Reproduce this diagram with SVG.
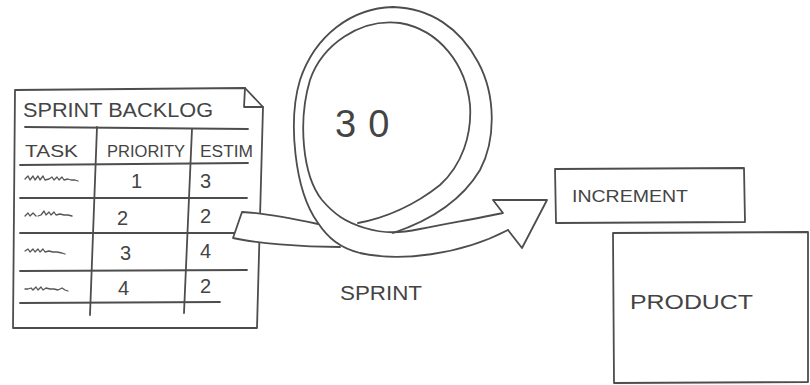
<svg xmlns="http://www.w3.org/2000/svg" width="810" height="385" viewBox="0 0 810 385">
<style>
.ln{fill:none;stroke:#4d4d4d;stroke-width:1.8;stroke-linecap:round;stroke-linejoin:round}
.wf{fill:#fff;stroke:none}
.t{font-family:"Liberation Sans",Arial,sans-serif;fill:#444}
.sq{fill:none;stroke:#555;stroke-width:1.3;stroke-linecap:round;stroke-linejoin:round}
</style>
<rect width="810" height="385" fill="#fff"/>
<g id="backlog">
<path class="ln" d="M15,90 L245,88 L263,107 L257,328 L13,328 Z"/>
<path class="ln" d="M245,88 L244,107 L263,107"/>
<path class="ln" d="M25,127 L248,129"/>
<path class="ln" d="M20,165 L248,163"/>
<path class="ln" d="M20,198 L247,198"/>
<path class="ln" d="M20,233 L242,233"/>
<path class="ln" d="M20,271 L247,270"/>
<path class="ln" d="M20,303 L220,302"/>
<path class="ln" d="M97,127 L90,315"/>
<path class="ln" d="M192,129 L184,313"/>
<text class="t" x="23" y="117" font-size="20" textLength="190" lengthAdjust="spacingAndGlyphs">SPRINT BACKLOG</text>
<text class="t" x="25" y="157" font-size="16" textLength="53" lengthAdjust="spacingAndGlyphs">TASK</text>
<text class="t" x="107" y="157" font-size="16" textLength="78" lengthAdjust="spacingAndGlyphs">PRIORITY</text>
<text class="t" x="200" y="157" font-size="16" textLength="53" lengthAdjust="spacingAndGlyphs">ESTIM</text>
<g class="t" font-size="20">
<text x="131" y="188">1</text><text x="200" y="188">3</text>
<text x="117" y="225">2</text><text x="200" y="223">2</text>
<text x="120" y="260">3</text><text x="200" y="258">4</text>
<text x="118" y="295">4</text><text x="200" y="293">2</text>
</g>
<path class="sq" d="M25,179 l3,-3 l2,4 l3,-4 l2,4 l3,-4 l2,4 l3,-4 l2,4 l4,-1 l3,-2 l2,3 l3,-3 l2,3 l3,-3 l2,3 l4,-1 l3,1 l4,0 l3,1"/>
<path class="sq" d="M25,216 l3,-3 l2,3 l3,-3 l3,3 M38,216 l3,-1 l3,-4 l2,4 l3,-3 l2,3 l3,-3 l2,3 l4,-1 l4,1 l4,0 l4,1"/>
<path class="sq" d="M25,251 l3,-2 l2,3 l3,-3 l2,3 l3,-3 l2,3 l3,-3 l2,3 l4,-1 l4,1 l4,0 l5,1 l3,1"/>
<path class="sq" d="M25,289 l3,0 l3,-1 l2,2 l3,-3 l2,3 l3,-3 l2,3 l3,-2 l4,1 l4,0 l4,1 l4,-2 l3,2 l3,1"/>
</g>
<g id="connectors">
<path class="wf" d="M318,224 C290,218 265,213 242,212 L233,238 C255,243 300,247 340,247 Z"/>
<path class="ln" d="M318,224 C290,218 265,213 242,212 L233,238 C255,243 300,247 340,247"/>
<path class="ln" d="M393,233 C432,220 462,200 480,170 C496,140 496,95 478,62 C460,28 430,8 393,7 C352,8 315,35 300,80 C288,120 294,190 318,223 C328,238 340,248 360,253 C400,262 460,255 508,230"/>
<path class="ln" d="M358,223 C385,218 415,205 440,185 C462,165 472,135 470,105 C466,65 440,30 400,23 C360,18 322,45 310,80 C298,120 302,175 322,200 C334,214 345,222 365,228 C385,234 400,233 420,229 C450,223 480,218 503,213 L493,200 L547,200 L522,248 L508,230"/>
</g>
<g id="sprint-label">
<text class="t" x="335" y="137" font-size="38" letter-spacing="12">30</text>
<text class="t" x="340" y="300" font-size="20" textLength="82" lengthAdjust="spacingAndGlyphs">SPRINT</text>
</g>
<g id="increment">
<path class="ln" d="M555,169 L744,168 L745,222 L556,223 Z"/>
<text class="t" x="572" y="202" font-size="16" textLength="116" lengthAdjust="spacingAndGlyphs">INCREMENT</text>
</g>
<g id="product">
<path class="ln" d="M613,233 L808,232 L808,382 L614,383 Z"/>
<text class="t" x="630" y="309" font-size="20" textLength="123" lengthAdjust="spacingAndGlyphs">PRODUCT</text>
</g>
</svg>
